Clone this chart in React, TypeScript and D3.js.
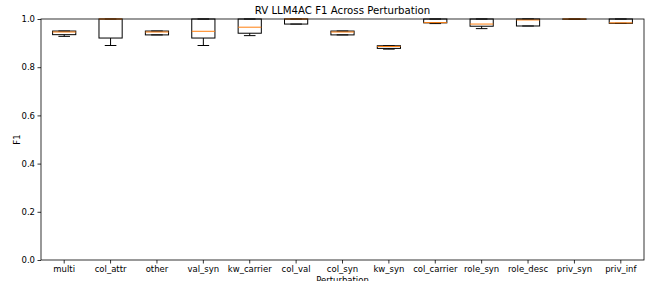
import React, { useEffect, useRef } from 'react';
import * as d3 from 'd3';

const categories = ['multi', 'col_attr', 'other', 'val_syn', 'kw_carrier', 'col_val', 'col_syn', 'kw_syn', 'col_carrier', 'role_syn', 'role_desc', 'priv_syn', 'priv_inf'];
const whiskerLow = [0.928, 0.890, 0.934, 0.890, 0.931, 0.979, 0.934, 0.875, 0.981, 0.960, 0.971, 0.999, 0.982];
const q1 = [0.935, 0.921, 0.934, 0.921, 0.941, 0.979, 0.934, 0.878, 0.984, 0.970, 0.971, 0.999, 0.982];
const median = [0.946, 1.0, 0.946, 0.949, 0.966, 1.0, 0.946, 0.886, 0.985, 0.979, 0.996, 1.0, 0.984];
const q3 = [0.950, 1.0, 0.950, 1.0, 1.0, 1.0, 0.950, 0.889, 1.0, 1.0, 1.0, 1.0, 1.0];
const whiskerHigh = [0.950, 1.0, 0.950, 1.0, 1.0, 1.0, 0.950, 0.889, 1.0, 1.0, 1.0, 1.0, 1.0];
const yTicks = [0, 0.2, 0.4, 0.6, 0.8, 1.0];

export default function App() {
  const svgRef = useRef<SVGSVGElement>(null);

  useEffect(() => {
    if (!svgRef.current) return;
    const svg = d3.select(svgRef.current);
    svg.selectAll('*').remove();

    const width = 651;
    const height = 281;
    const margin = { top: 19, right: 7, bottom: 21, left: 41 };
    const font = 'DejaVu Sans, sans-serif';

    const x = d3.scaleBand()
      .domain(categories)
      .range([margin.left, width - margin.right]);
    const y = d3.scaleLinear()
      .domain([0, 1])
      .range([height - margin.bottom, margin.top]);

    const boxW = x.bandwidth() * 0.5;
    const capW = boxW / 2;

    const rows = categories.map((c, i) => ({
      c, lo: whiskerLow[i], q1: q1[i], med: median[i], q3: q3[i], hi: whiskerHigh[i],
    }));

    const g = svg.append('g').selectAll('g').data(rows).join('g')
      .attr('transform', d => `translate(${x(d.c)! + x.bandwidth() / 2},0)`);

    // whiskers
    g.append('line').attr('x1', 0).attr('x2', 0)
      .attr('y1', d => y(d.q1)).attr('y2', d => y(d.lo))
      .attr('stroke', '#000').attr('stroke-width', 1);
    g.append('line').attr('x1', 0).attr('x2', 0)
      .attr('y1', d => y(d.q3)).attr('y2', d => y(d.hi))
      .attr('stroke', '#000').attr('stroke-width', 1);
    // caps
    g.append('line').attr('x1', -capW / 2).attr('x2', capW / 2)
      .attr('y1', d => y(d.lo)).attr('y2', d => y(d.lo))
      .attr('stroke', '#000').attr('stroke-width', 1);
    g.append('line').attr('x1', -capW / 2).attr('x2', capW / 2)
      .attr('y1', d => y(d.hi)).attr('y2', d => y(d.hi))
      .attr('stroke', '#000').attr('stroke-width', 1);
    // box
    g.append('rect')
      .attr('x', -boxW / 2).attr('width', boxW)
      .attr('y', d => y(d.q3)).attr('height', d => Math.max(0.01, y(d.q1) - y(d.q3)))
      .attr('fill', 'none').attr('stroke', '#000').attr('stroke-width', 1);
    // median
    g.append('line').attr('x1', -boxW / 2).attr('x2', boxW / 2)
      .attr('y1', d => y(d.med)).attr('y2', d => y(d.med))
      .attr('stroke', '#ff7f0e').attr('stroke-width', 1);

    // frame
    svg.append('rect')
      .attr('x', margin.left).attr('y', margin.top)
      .attr('width', width - margin.left - margin.right)
      .attr('height', height - margin.top - margin.bottom)
      .attr('fill', 'none').attr('stroke', '#000').attr('stroke-width', 0.8);

    // y axis
    svg.append('g')
      .attr('transform', `translate(${margin.left},0)`)
      .call(d3.axisLeft(y).tickValues(yTicks).tickFormat(d3.format('.1f')).tickSize(3.5).tickPadding(2.5))
      .call(a => a.select('.domain').remove())
      .call(a => a.selectAll('line').attr('stroke', '#000').attr('stroke-width', 0.8))
      .call(a => a.selectAll('text').attr('font-family', font).attr('font-size', 8.5).attr('fill', '#000'));

    // x axis
    svg.append('g')
      .attr('transform', `translate(0,${height - margin.bottom})`)
      .call(d3.axisBottom(x).tickSize(3.5).tickPadding(2.5))
      .call(a => a.select('.domain').remove())
      .call(a => a.selectAll('line').attr('stroke', '#000').attr('stroke-width', 0.8))
      .call(a => a.selectAll('text').attr('font-family', font).attr('font-size', 8.5).attr('fill', '#000'));

    svg.append('text')
      .attr('x', (margin.left + width - margin.right) / 2)
      .attr('y', 283)
      .attr('text-anchor', 'middle')
      .attr('font-family', font).attr('font-size', 8.5)
      .text('Perturbation');

    svg.append('text')
      .attr('transform', `translate(20,${(margin.top + height - margin.bottom) / 2}) rotate(-90)`)
      .attr('text-anchor', 'middle')
      .attr('font-family', font).attr('font-size', 8.5)
      .text('F1');

    svg.append('text')
      .attr('x', (margin.left + width - margin.right) / 2)
      .attr('y', 14)
      .attr('text-anchor', 'middle')
      .attr('font-family', font).attr('font-size', 10.2)
      .text('RV LLM4AC F1 Across Perturbation');
  }, []);

  return (
    <svg ref={svgRef} width={651} height={281}
      style={{ position: 'absolute', left: 0, top: 0, background: '#fff' }} />
  );
}
